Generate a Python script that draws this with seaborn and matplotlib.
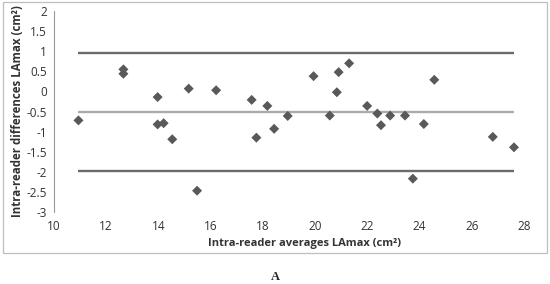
import numpy as np
import pandas as pd
import seaborn as sns
import matplotlib
matplotlib.use("Agg")
import matplotlib.pyplot as plt
from matplotlib.patches import Rectangle

# averages (x) and differences (y)
averages = [10.94, 12.66, 12.66, 13.97, 13.97, 14.20, 14.53, 15.16, 15.48, 16.21,
            17.57, 17.75, 18.17, 18.43, 18.95, 19.94, 20.56, 20.83, 20.90, 21.30,
            21.99, 22.38, 22.52, 22.87, 23.44, 23.74, 24.16, 24.56, 26.80, 27.61]
differences = [-0.72, 0.55, 0.44, -0.14, -0.82, -0.79, -1.19, 0.07, -2.47, 0.03,
               -0.21, -1.15, -0.36, -0.93, -0.61, 0.38, -0.60, -0.02, 0.48, 0.70,
               -0.36, -0.55, -0.84, -0.60, -0.60, -2.17, -0.81, 0.29, -1.13, -1.39]
limits = [0.95, -1.99]   # limits of agreement
bias = -0.52

xticks = [10, 12, 14, 16, 18, 20, 22, 24, 26, 28]
yticks = [2, 1.5, 1, 0.5, 0, -0.5, -1, -1.5, -2, -2.5, -3]

sns.set_style("white")
plt.rcParams['font.family'] = ['Open Sans', 'DejaVu Sans']

df = pd.DataFrame({"avg": averages, "diff": differences})

fig = plt.figure(figsize=(5.5, 2.84), dpi=100)
ax = fig.add_axes([0.098, 0.2535, 0.855, 0.7075])

x0, x1 = min(averages), max(averages)
ax.hlines(limits, x0, x1, color="#6b6b6b", lw=1.7, zorder=1)
ax.hlines(bias, x0, x1, color="#ababab", lw=1.7, zorder=1)

sns.scatterplot(data=df, x="avg", y="diff", marker="D", s=26,
                color="#595959", edgecolor="none", ax=ax, zorder=3)

ax.set_xlim(10, 28)
ax.set_ylim(-3, 2)
ax.set_xticks(xticks)
ax.set_xticklabels([str(t) for t in xticks])
ax.set_yticks(yticks)
ax.set_yticklabels([f"{t:g}" for t in yticks])
ax.tick_params(axis="both", labelsize=8.5, colors="#333333")
ax.tick_params(axis="y", length=3, width=0.8, color="#999999", pad=2)
ax.tick_params(axis="x", length=0, pad=6)

for s in ["top", "right", "bottom"]:
    ax.spines[s].set_visible(False)
ax.spines["left"].set_color("#999999")
ax.spines["left"].set_linewidth(0.8)

ax.set_xlabel("Intra-reader averages LAmax (cm²)", fontsize=8,
              fontweight="bold", color="#333333", labelpad=0)
ax.xaxis.set_label_coords(0.534, -0.13)
ax.set_ylabel("Intra-reader differences LAmax (cm²)", fontsize=8.3,
              fontweight="bold", color="#333333", labelpad=2)

fig.patches.append(Rectangle((0.0055, 0.109), 0.989, 0.884, transform=fig.transFigure,
                             fill=False, edgecolor="#bfbfbf", lw=0.9))
fig.text(0.5, 0.025, "A", ha="center", va="center", fontsize=9,
         fontweight="bold", family="Liberation Serif")

fig.savefig("out.png", dpi=100)
